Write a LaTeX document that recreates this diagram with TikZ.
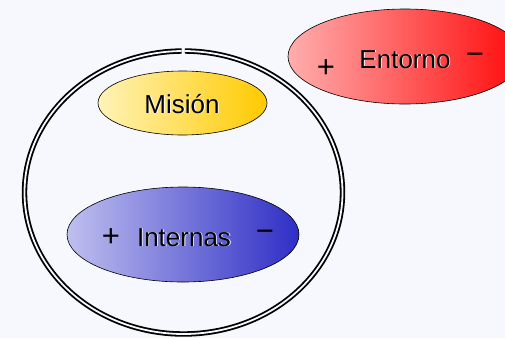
\documentclass[tikz,border=0pt]{standalone}
\usepackage{fontspec}
\setmainfont{Liberation Sans}
\usetikzlibrary{shapes.geometric,calc}
\definecolor{bgc}{HTML}{F7F8FD}
\definecolor{misL}{HTML}{FFF3B8}
\definecolor{misR}{HTML}{FFCA00}
\definecolor{intL}{HTML}{BFBFEF}
\definecolor{intR}{HTML}{2E2EC6}
\definecolor{entL}{HTML}{FFAEAE}
\definecolor{entR}{HTML}{FF0A0A}
\tikzset{
  blob/.style={ellipse, draw=black, line width=0.6pt, inner sep=0pt},
  lbl/.style={anchor=base, inner sep=0pt, font=\fontsize{26}{30}\selectfont},
  sign/.style={anchor=base, inner sep=0pt, font=\fontsize{31}{34}\selectfont},
  shadowlbl/.style={lbl, text=white},
  ring/.style={draw=black, line width=1.8pt, double=bgc, double distance=1.8pt}
}
\newcommand{\embossed}[3]{%
  \node[shadowlbl] (#1s) at ($(#2)+(0.9,0.9)$) {#3};
  \node[lbl] (#1) at (#2) {#3};}
\begin{document}
\begin{tikzpicture}[x=1pt,y=-1pt]
  \fill[bgc] (0,0) rectangle (505,338);
  \useasboundingbox (0,0) rectangle (505,338);
  \clip (0,0) rectangle (505,338);
  % outer double ring
  \coordinate (c) at (183.5,192.5);
  \draw[ring] ($(c)+(270.5:159 and 141.5)$) arc[start angle=270.5, end angle=629.3, x radius=159, y radius=141.5];
  % ellipses
  \node[blob, minimum width=169pt, minimum height=64pt, left color=misL, right color=misR] (mision) at (182.5,103) {};
  \node[blob, minimum width=232pt, minimum height=95pt, left color=intL, right color=intR] (internas) at (183,234.5) {};
  \node[blob, minimum width=234pt, minimum height=95pt, left color=entL, right color=entR] (entorno) at (405,56.5) {};
  % labels
  \coordinate (pm) at (182,113);
  \embossed{tmision}{pm}{Misión}
  \coordinate (pi) at (184,246);
  \embossed{tinternas}{pi}{Internas}
  \coordinate (pe) at (405,68);
  \embossed{tentorno}{pe}{Entorno}
  \node[sign] (pi1) at (111,246) {+};
  \node[sign] (mi1) at (265,241) {−};
  \node[sign] (pe1) at (326,77) {+};
  \node[sign] (me1) at (475,64) {−};
\end{tikzpicture}
\end{document}
